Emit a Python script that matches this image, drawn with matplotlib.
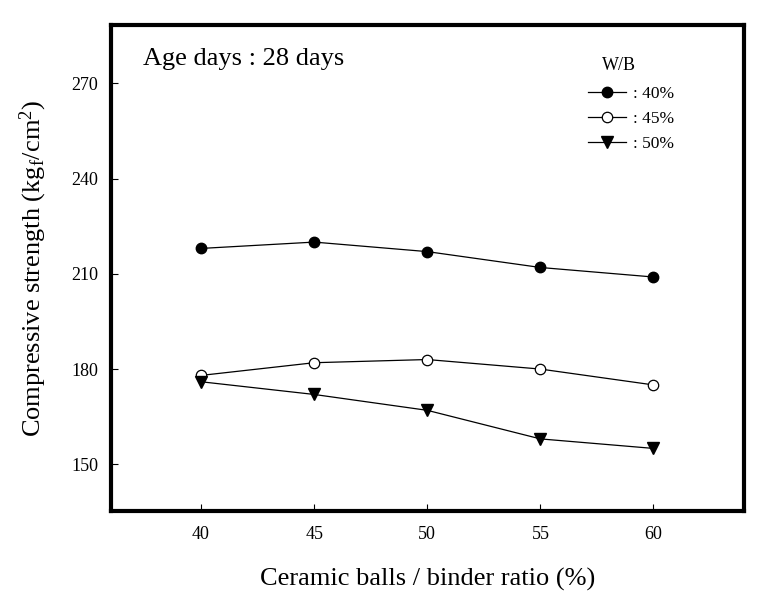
import matplotlib
matplotlib.use("Agg")
import matplotlib.pyplot as plt

plt.rcParams["font.family"] = "Liberation Serif"
plt.rcParams["mathtext.fontset"] = "custom"
plt.rcParams["mathtext.rm"] = "Liberation Serif"
plt.rcParams["mathtext.it"] = "Liberation Serif"

ratio = [40, 45, 50, 55, 60]
wb40 = [218, 220, 217, 212, 209]
wb45 = [178, 182, 183, 180, 175]
wb50 = [176, 172, 167, 158, 155]

fig = plt.figure(figsize=(7.7, 6.09), dpi=100)
ax = fig.add_axes([0.1436, 0.161, 0.8226, 0.798])

ax.plot(ratio, wb40, color="black", lw=0.9, marker="o", ms=7.5,
        mfc="black", mec="black", label=": 40%")
ax.plot(ratio, wb45, color="black", lw=0.9, marker="o", ms=7.5,
        mfc="white", mec="black", mew=0.9, label=": 45%")
ax.plot(ratio, wb50, color="black", lw=0.9, marker="v", ms=8.5,
        mfc="black", mec="black", label=": 50%")

ax.set_xlim(36, 64)
ax.set_ylim(135.3, 288.4)
ax.set_xticks(ratio)
ax.set_yticks([150, 180, 210, 240, 270])

for s in ax.spines.values():
    s.set_linewidth(3)
ax.tick_params(direction="in", length=5, width=0.8, labelsize=13)
ax.tick_params(axis="x", pad=11)
ax.tick_params(axis="y", pad=9)

ax.set_xlabel("Ceramic balls / binder ratio (%)", fontsize=19, labelpad=18)
ax.set_ylabel("Compressive strength (kg$_{\\mathrm{f}}$/cm$^{2}$)", fontsize=19, labelpad=16)

ax.text(0.051, 0.93, "Age days : 28 days", transform=ax.transAxes,
        fontsize=19, va="center", ha="left")
ax.text(0.802, 0.917, "W/B", transform=ax.transAxes,
        fontsize=13, va="center", ha="center")

leg = ax.legend(loc="upper right", bbox_to_anchor=(0.9, 0.888),
                frameon=False, fontsize=12.5,
                handlelength=2.2, handletextpad=0.35, labelspacing=0.5,
                borderaxespad=0)

fig.savefig("out.png", dpi=100)
